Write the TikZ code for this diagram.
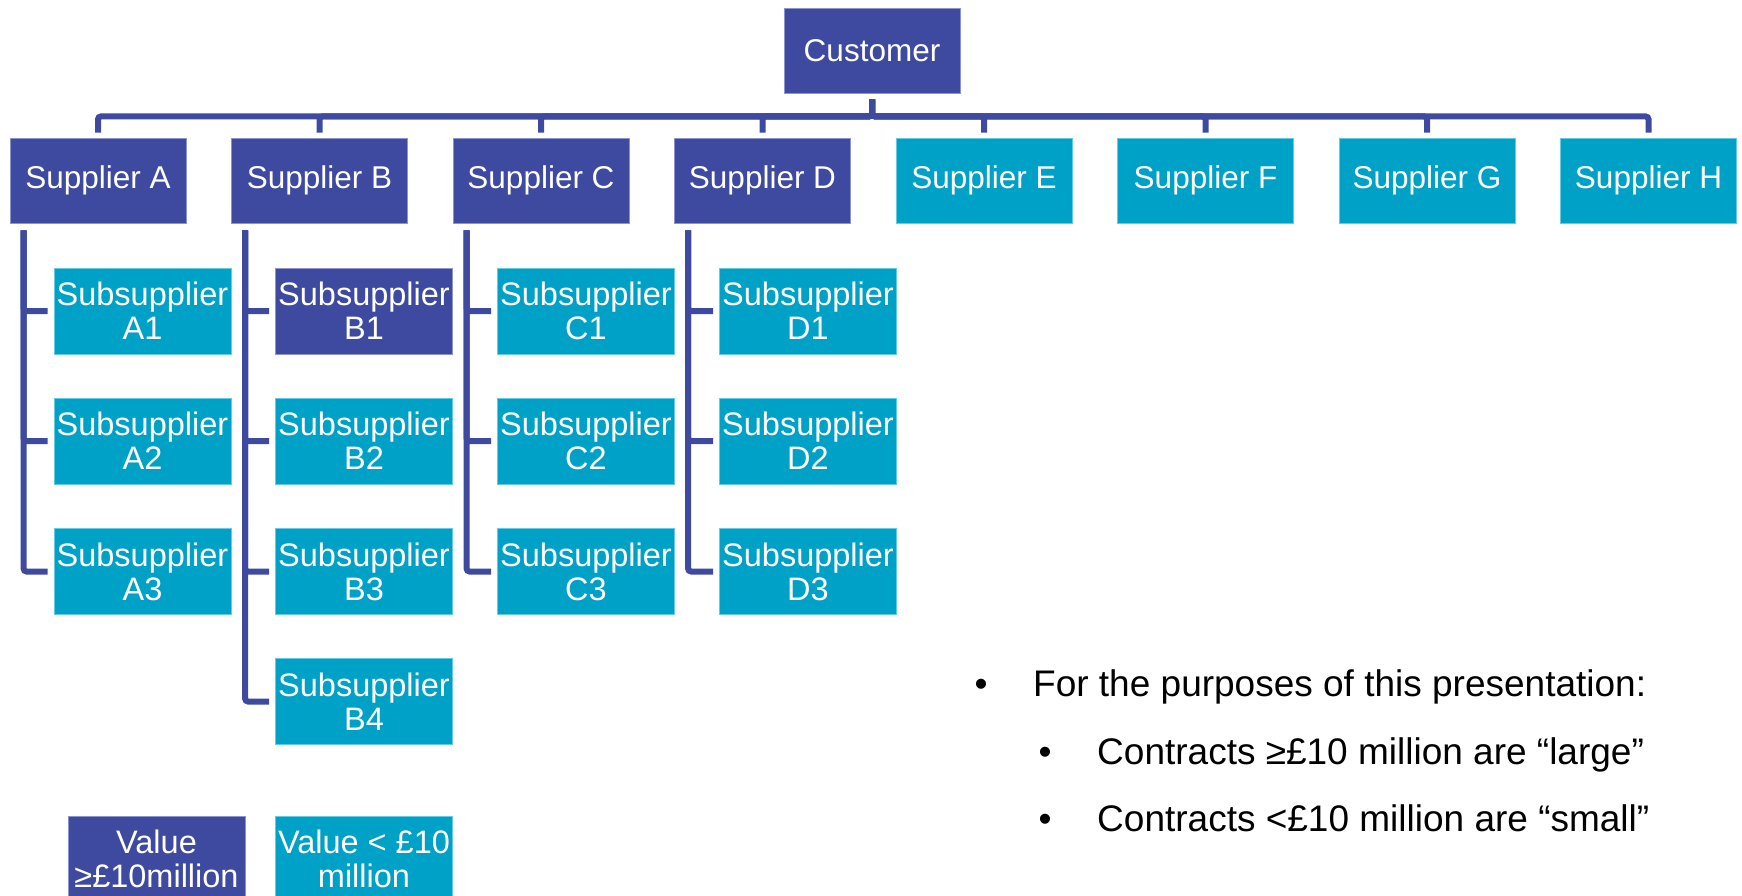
\documentclass[tikz,border=0pt]{standalone}
\usepackage{fontspec}
\setmainfont{Liberation Sans}
\definecolor{dkblue}{HTML}{3D4A9F}
\definecolor{dkedge}{HTML}{8C93CE}
\definecolor{tealc}{HTML}{00A1C7}
\definecolor{tealedge}{HTML}{63CBE3}
\tikzset{
  boxbase/.style={rectangle, minimum width=176pt, minimum height=85pt, inner sep=0pt,
    text=white, font=\fontsize{31.5}{34}\selectfont, align=center, line width=0.8pt},
  darkbox/.style={boxbase, fill=dkblue, draw=dkedge},
  tealbox/.style={boxbase, fill=tealc, draw=tealedge},
  subbox/.style={minimum width=177pt, minimum height=86pt, font=\fontsize{32.5}{34}\selectfont},
  conn/.style={draw=dkblue, line width=6pt, rounded corners=3pt},
  bultext/.style={font=\fontsize{37}{40}\selectfont, text=black, inner sep=0pt},
}
\begin{document}
\begin{tikzpicture}[x=1pt,y=-1pt]
\useasboundingbox[fill=white] (0,0) rectangle (1742,896);
% customer
\node[darkbox] (cust) at (872,50.5) {Customer};
% suppliers
\node[darkbox] (sA) at (98,180.5) {Supplier A};
\node[darkbox] (sB) at (319.5,180.5) {Supplier B};
\node[darkbox] (sC) at (541,180.5) {Supplier C};
\node[darkbox] (sD) at (762.5,180.5) {Supplier D};
\node[tealbox] (sE) at (984,180.5) {Supplier E};
\node[tealbox] (sF) at (1205.5,180.5) {Supplier F};
\node[tealbox] (sG) at (1427,180.5) {Supplier G};
\node[tealbox] (sH) at (1648.5,180.5) {Supplier H};
% subsuppliers
\node[tealbox,subbox] (a1) at (142.5,311) {Subsupplier\\A1};
\node[tealbox,subbox] (a2) at (142.5,441) {Subsupplier\\A2};
\node[tealbox,subbox] (a3) at (142.5,571.5) {Subsupplier\\A3};
\node[darkbox,subbox] (b1) at (364,311) {Subsupplier\\B1};
\node[tealbox,subbox] (b2) at (364,441) {Subsupplier\\B2};
\node[tealbox,subbox] (b3) at (364,571.5) {Subsupplier\\B3};
\node[tealbox,subbox] (b4) at (364,701.5) {Subsupplier\\B4};
\node[tealbox,subbox] (c1) at (586,311) {Subsupplier\\C1};
\node[tealbox,subbox] (c2) at (586,441) {Subsupplier\\C2};
\node[tealbox,subbox] (c3) at (586,571.5) {Subsupplier\\C3};
\node[tealbox,subbox] (d1) at (808,311) {Subsupplier\\D1};
\node[tealbox,subbox] (d2) at (808,441) {Subsupplier\\D2};
\node[tealbox,subbox] (d3) at (808,571.5) {Subsupplier\\D3};
% legend
\node[darkbox,subbox] (lg1) at (156.5,859) {Value\\≥£10million};
\node[tealbox,subbox] (lg2) at (364,859) {Value < £10\\million};
% connectors customer -> suppliers
\foreach \s in {sA,sB,sC,sD,sE,sF,sG,sH}{
  \draw[conn] ([yshift=-6pt]cust.south) -- ++(0,17) -| ([yshift=5pt]\s.north);
}
% connectors supplier -> subsuppliers
\foreach \s/\c in {sA/a1,sA/a2,sA/a3,sB/b1,sB/b2,sB/b3,sB/b4,sC/c1,sC/c2,sC/c3,sD/d1,sD/d2,sD/d3}{
  \draw[conn] ([shift={(14pt,-7pt)}]\s.south west) |- ([xshift=-6pt]\c.west);
}
% bullet text
\node[bultext, anchor=base] (bu1) at (981,696) {•};
\node[bultext, anchor=base west] (t1) at (1033,696) {For the purposes of this presentation:};
\node[bultext, anchor=base] (bu2) at (1045,764) {•};
\node[bultext, anchor=base west] (t2) at (1097,764) {Contracts ≥£10 million are “large”};
\node[bultext, anchor=base] (bu3) at (1045,831) {•};
\node[bultext, anchor=base west] (t3) at (1097,831) {Contracts <£10 million are “small”};
\end{tikzpicture}
\end{document}
